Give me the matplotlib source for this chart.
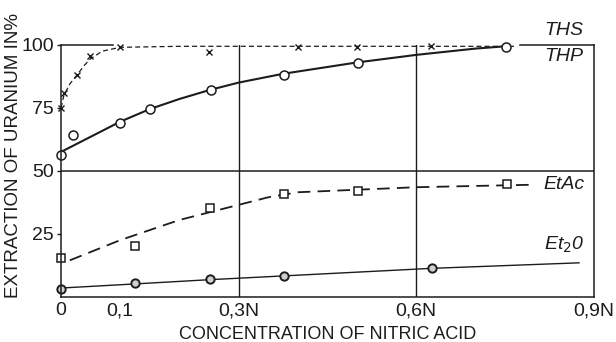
import matplotlib
matplotlib.use("Agg")
import matplotlib.pyplot as plt

plt.rcParams['font.family'] = ['Liberation Sans', 'DejaVu Sans']

# measured points (nitric acid concentration N, extraction %)
ths_x = [0.0, 0.005, 0.027, 0.049, 0.1, 0.25, 0.4, 0.5, 0.625]
ths_y = [75, 81, 88, 95.5, 99, 97, 99, 99, 99.5]
thp_x = [0.0, 0.02, 0.1, 0.15, 0.253, 0.376, 0.502, 0.752]
thp_y = [56.3, 64.3, 69, 74.6, 82, 88, 92.9, 99.3]
etac_x = [0.0, 0.125, 0.251, 0.376, 0.502, 0.754]
etac_y = [15.5, 20, 35.3, 40.9, 42, 44.8]
et2o_x = [0.0, 0.125, 0.251, 0.376, 0.627]
et2o_y = [3.2, 5.6, 7.1, 8.3, 11.5]

# fitted curves as drawn in the original
ths_cx = [0.0, 0.005, 0.015, 0.027, 0.04, 0.05, 0.07, 0.1, 0.2, 0.4, 0.6, 0.77]
ths_cy = [75, 80, 84.5, 88, 92, 94.5, 97.5, 99, 99.4, 99.4, 99.4, 99.4]
thp_cx = [0.0, 0.05, 0.1, 0.15, 0.2, 0.25, 0.3, 0.375, 0.5, 0.6, 0.7, 0.75]
thp_cy = [57.5, 63.5, 69.5, 74.5, 78.5, 82, 85, 88.5, 93, 96, 98.5, 99.4]
etac_cx = [0.015, 0.1, 0.2, 0.25, 0.3, 0.35, 0.4, 0.5, 0.6, 0.7, 0.8]
etac_cy = [14.5, 22.5, 30.5, 33.5, 36.5, 39.5, 41.5, 42.5, 43.5, 44, 44.5]
et2o_cx = [0.0, 0.1, 0.25, 0.375, 0.5, 0.625, 0.875]
et2o_cy = [3.5, 4.8, 6.8, 8.3, 9.8, 11.3, 13.5]

xticks = [0, 0.1, 0.3, 0.6, 0.9]
xticklabels = ['0', '0,1', '0,3N', '0,6N', '0,9N']
yticks = [25, 50, 75, 100]

ink = '#1c1c1c'

fig = plt.figure(figsize=(6.16, 3.42), dpi=100)
ax = fig.add_axes([0.099, 0.132, 0.865, 0.737])
ax.set_xlim(0, 0.9)
ax.set_ylim(0, 100)

# frame: top edge only partly drawn
ax.spines['top'].set_visible(False)
for s in ['left', 'right', 'bottom']:
    ax.spines[s].set_color(ink)
    ax.spines[s].set_linewidth(1.1)
ax.plot([0, 0.088], [100, 100], color=ink, lw=1.1, clip_on=False)
ax.plot([0.775, 0.9], [100, 100], color=ink, lw=1.1, clip_on=False)

# grid lines
ax.axvline(0.3, color=ink, lw=1.0)
ax.axvline(0.6, color=ink, lw=1.0)
ax.axhline(50, color=ink, lw=1.1)

# curves
ax.plot(ths_cx, ths_cy, color=ink, lw=0.9, ls=(0, (4, 2.5)))
ax.plot(thp_cx, thp_cy, color=ink, lw=1.5)
ax.plot(etac_cx, etac_cy, color=ink, lw=1.3, ls=(0, (7, 4)))
ax.plot(et2o_cx, et2o_cy, color=ink, lw=1.0)

# points
ax.plot(ths_x, ths_y, ls='none', marker='x', ms=4.5, mew=1.0, color=ink, clip_on=False)
ax.plot(thp_x, thp_y, ls='none', marker='o', ms=6.5, mew=1.1, mfc='white', mec=ink, clip_on=False)
ax.plot(etac_x, etac_y, ls='none', marker='s', ms=5.5, mew=1.1, mfc='white', mec=ink, clip_on=False)
ax.plot(et2o_x, et2o_y, ls='none', marker='o', ms=6, mew=1.4, mfc='#cfcfcf', mec=ink, clip_on=False)

# curve labels
lab = dict(fontsize=14, style='italic', color=ink, ha='center', va='center')
ax.text(0.85, 105.5, 'THS', clip_on=False, **lab)
ax.text(0.85, 95.5, 'THP', **lab)
ax.text(0.85, 44.5, 'EtAc', **lab)
ax.text(0.85, 20.5, 'Et$_2$0', **lab)

ax.set_xticks(xticks)
ax.set_xticklabels(xticklabels)
ax.set_yticks(yticks)
ax.tick_params(axis='x', length=0, pad=4, labelsize=14, colors=ink)
ax.tick_params(axis='y', length=3, width=1, pad=2, labelsize=14, colors=ink)

ax.set_xlabel('CONCENTRATION OF NITRIC ACID', fontsize=13, color=ink, labelpad=5)
ax.set_ylabel('EXTRACTION OF URANIUM IN%', fontsize=13.5, color=ink)
ax.yaxis.set_label_coords(-0.073, 0.56)

fig.savefig('out.png', dpi=100, facecolor='white')
